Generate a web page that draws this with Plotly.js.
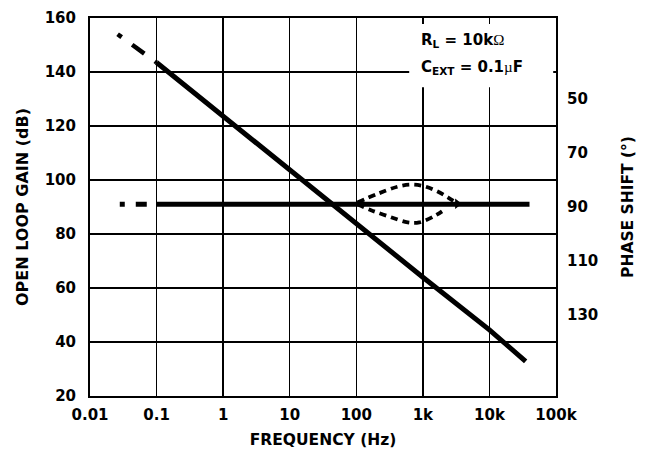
<!DOCTYPE html>
<html>
<head>
<meta charset="utf-8">
<script src="https://cdn.plot.ly/plotly-3.0.1.min.js"></script>
<style>html,body{margin:0;padding:0;background:#fff;}#chart{width:650px;height:454px;}</style>
</head>
<body>
<div id="chart"></div>
<script>
// ---- data ----
var freqTicks = [0.01, 0.1, 1, 10, 100, 1000, 10000, 100000];
var freqTickText = ['0.01', '0.1', '1', '10', '100', '1k', '10k', '100k'];
var gainTicks = [20, 40, 60, 80, 100, 120, 140, 160];
var phaseTicks = [50, 70, 90, 110, 130];

var gainDashFreq = [0.026, 0.1];
var gainDash = [154, 143.5];
var gainFreq = [0.1, 1, 10, 100, 1000, 10000, 35000];
var gain = [143.5, 123.5, 103.5, 84, 64, 44.5, 32.8];

var phaseDashFreq = [0.028, 0.1];
var phaseDash = [89, 89];
var phaseFreq = [0.1, 40000];
var phase = [89, 89];

var upperArcFreq = [104, 206, 415, 665, 1000, 1580, 2400, 3300];
var upperArc = [88.3, 85.2, 82.5, 81.7, 82.2, 84.0, 86.5, 88.8];
var lowerArcFreq = [104, 167, 315, 592, 887, 1580, 2100];
var lowerArc = [89, 91.2, 93.6, 95.7, 95.7, 93, 91];

var F = 'DejaVu Sans, Liberation Sans, sans-serif';
function bold(a) { return a.map(function (v) { return '<b>' + v + '</b>'; }); }

var traces = [
  {x: gainDashFreq, y: gainDash, mode: 'lines', yaxis: 'y',
   line: {color: '#000', width: 4.5, dash: '5px,13px,15px,13px'}},
  {x: gainFreq, y: gain, mode: 'lines', yaxis: 'y',
   line: {color: '#000', width: 5}},
  {x: phaseDashFreq, y: phaseDash, mode: 'lines', yaxis: 'y2',
   line: {color: '#000', width: 5, dash: '5px,11px,11px,11px'}},
  {x: phaseFreq, y: phase, mode: 'lines', yaxis: 'y2',
   line: {color: '#000', width: 5}},
  {x: upperArcFreq, y: upperArc, mode: 'lines', yaxis: 'y2',
   line: {color: '#000', width: 3.8, dash: '7px,5px', shape: 'spline'}},
  {x: lowerArcFreq, y: lowerArc, mode: 'lines', yaxis: 'y2',
   line: {color: '#000', width: 3.8, dash: '7px,5px', shape: 'spline'}},
  {x: upperArcFreq.slice(-1), y: upperArc.slice(-1), mode: 'markers', yaxis: 'y2',
   marker: {symbol: 'triangle-right', size: 9, color: '#000'}}
];

var layout = {
  width: 650, height: 454,
  margin: {l: 90, r: 94, t: 18, b: 58},
  paper_bgcolor: '#fff', plot_bgcolor: '#fff',
  showlegend: false,
  font: {family: F, color: '#000', size: 15},
  xaxis: {
    type: 'log', range: [-2, 5],
    tickvals: freqTicks, ticktext: bold(freqTickText),
    showgrid: true, gridcolor: '#000', gridwidth: 1.3,
    showline: true, linecolor: '#000', linewidth: 2, mirror: true,
    ticks: '', zeroline: false, ticklabelstandoff: 4,
    tickfont: {family: F, size: 15},
    title: {text: '<b>FREQUENCY (Hz)</b>', font: {family: F, size: 15.5}, standoff: 11}
  },
  yaxis: {
    range: [20, 160], tickvals: gainTicks, ticktext: bold(gainTicks),
    showgrid: true, gridcolor: '#000', gridwidth: 1.3,
    showline: true, linecolor: '#000', linewidth: 2, mirror: true,
    ticks: '', zeroline: false, ticklabelstandoff: 9,
    tickfont: {family: F, size: 15},
    title: {text: '<b>OPEN LOOP GAIN (dB)</b>', font: {family: F, size: 16}, standoff: 12}
  },
  yaxis2: {
    overlaying: 'y', side: 'right',
    range: [160, 20], tickvals: phaseTicks, ticktext: bold(phaseTicks),
    showgrid: false, zeroline: false, ticks: '', ticklabelstandoff: 10,
    tickfont: {family: F, size: 15},
    title: {text: '<b>PHASE SHIFT (°)</b>', font: {family: F, size: 15.5}, standoff: 24}
  },
  shapes: [
    {type: 'rect', xref: 'paper', yref: 'paper', x0: 0.685, x1: 0.994, y0: 0.817, y1: 0.984,
     fillcolor: '#fff', line: {width: 0}, layer: 'above'}
  ],
  annotations: [
    {xref: 'paper', yref: 'paper', x: 0.706, y: 0.941, xanchor: 'left', yanchor: 'middle',
     showarrow: false, font: {family: F, size: 15, color: '#000'},
     text: '<b>R<sub>L</sub> = 10k</b><span style="font-family:\'Liberation Serif\'">Ω</span>'},
    {xref: 'paper', yref: 'paper', x: 0.706, y: 0.870, xanchor: 'left', yanchor: 'middle',
     showarrow: false, font: {family: F, size: 15, color: '#000'},
     text: '<b>C<sub>EXT</sub> = 0.1</b><span style="font-family:\'Liberation Serif\'">µ</span><b>F</b>'}
  ]
};

Plotly.newPlot('chart', traces, layout, {displayModeBar: false, staticPlot: true});
</script>
</body>
</html>
